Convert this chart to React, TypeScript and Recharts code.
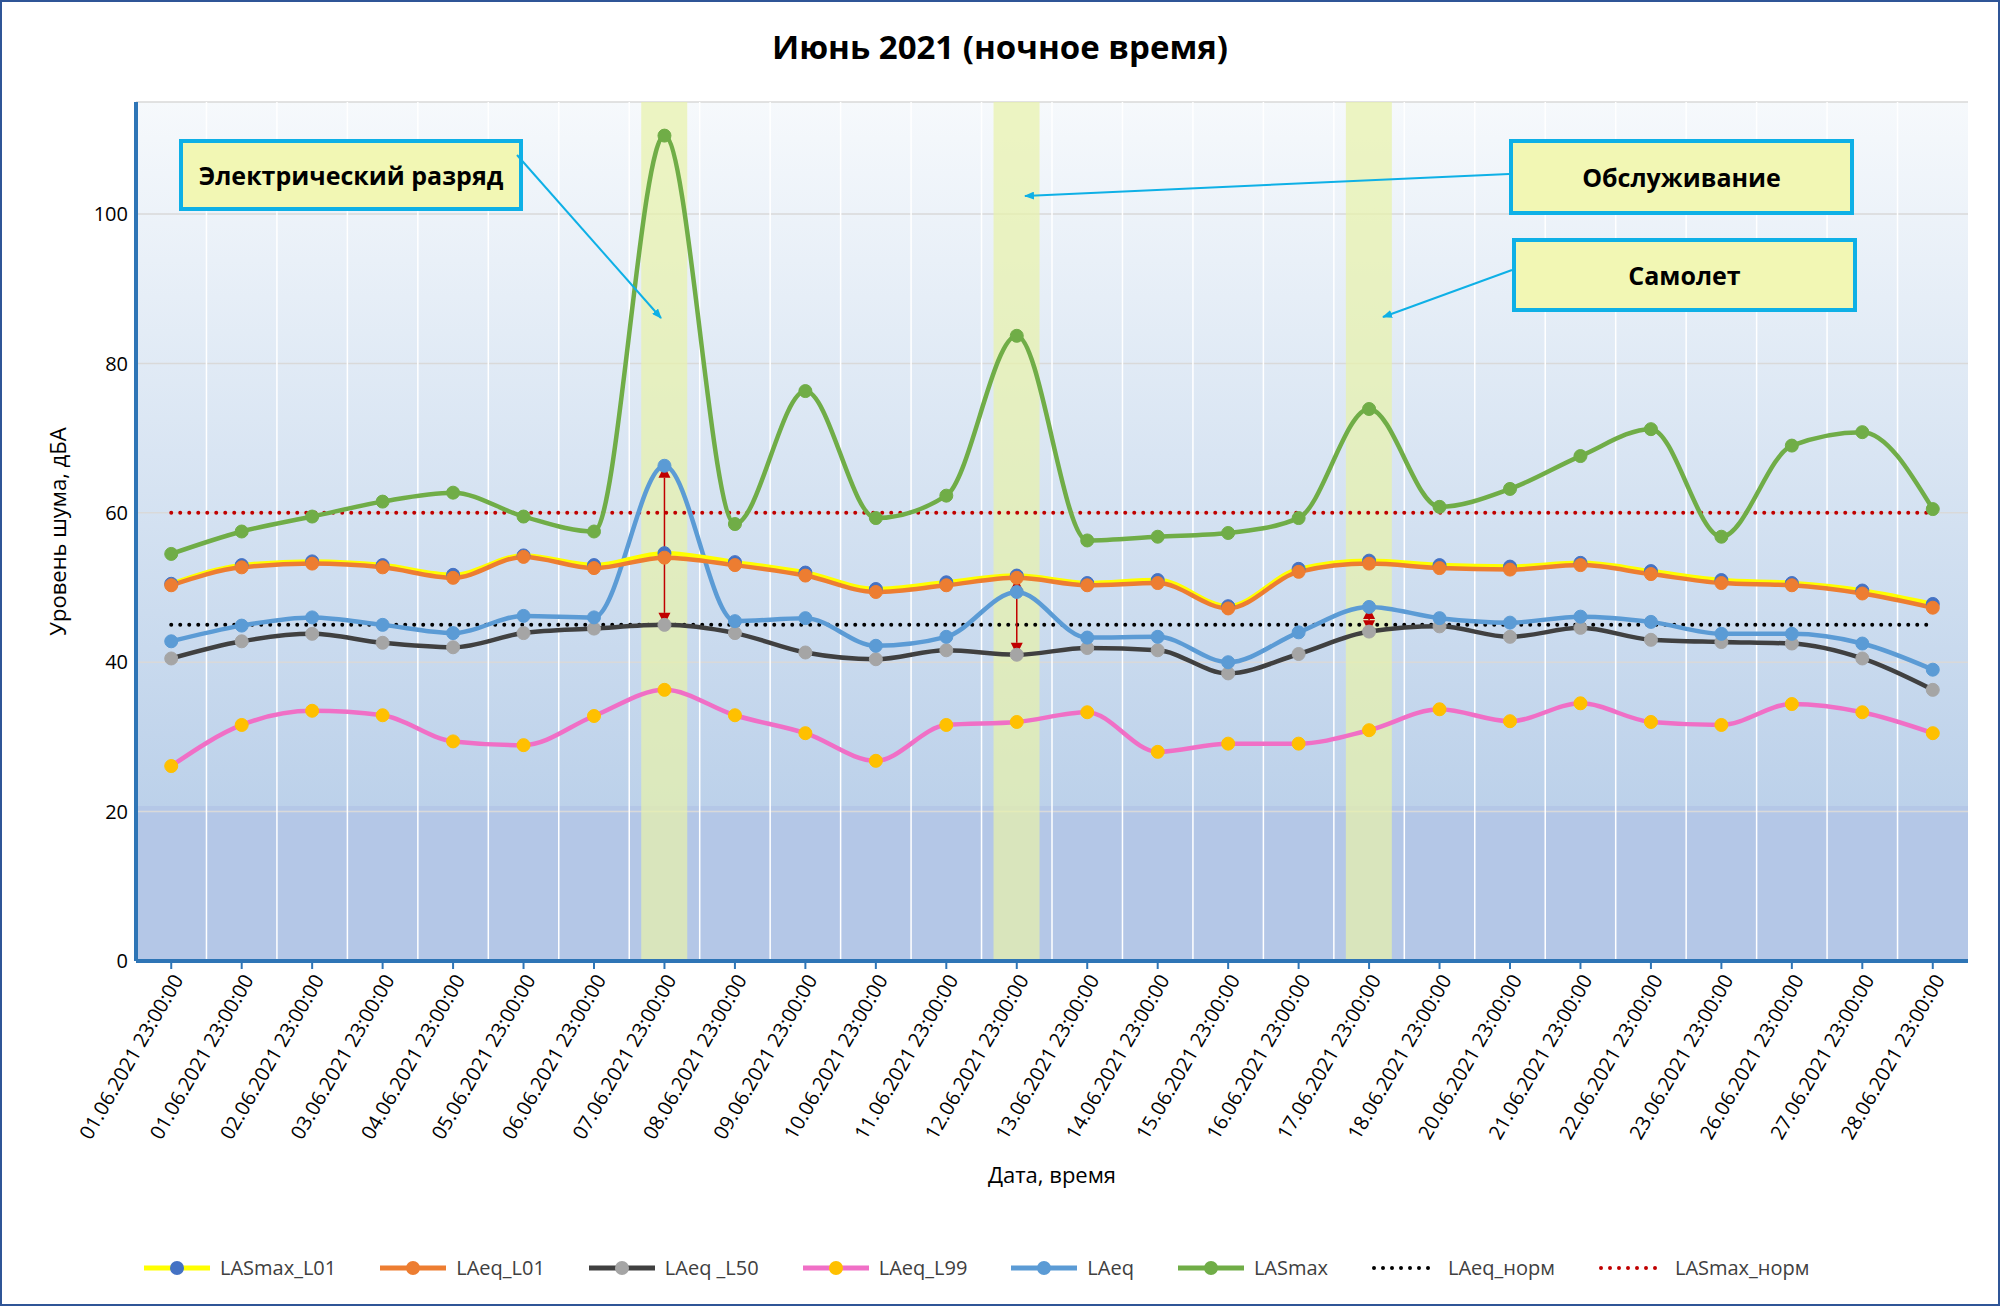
import React from 'react';
import { ComposedChart, Line, Bar, XAxis, YAxis, CartesianGrid, ReferenceLine } from 'recharts';

const labels = [
  '01.06.2021 23:00:00', '01.06.2021 23:00:00', '02.06.2021 23:00:00', '03.06.2021 23:00:00', '04.06.2021 23:00:00',
  '05.06.2021 23:00:00', '06.06.2021 23:00:00', '07.06.2021 23:00:00', '08.06.2021 23:00:00', '09.06.2021 23:00:00',
  '10.06.2021 23:00:00', '11.06.2021 23:00:00', '12.06.2021 23:00:00', '13.06.2021 23:00:00', '14.06.2021 23:00:00',
  '15.06.2021 23:00:00', '16.06.2021 23:00:00', '17.06.2021 23:00:00', '18.06.2021 23:00:00', '20.06.2021 23:00:00',
  '21.06.2021 23:00:00', '22.06.2021 23:00:00', '23.06.2021 23:00:00', '26.06.2021 23:00:00', '27.06.2021 23:00:00',
  '28.06.2021 23:00:00',
];
const lasmaxL01 = [50.5, 53, 53.5, 53, 51.7, 54.3, 53, 54.6, 53.4, 52, 49.8, 50.7, 51.6, 50.6, 51, 47.5, 52.5, 53.6, 53, 52.8, 53.3, 52.2, 51, 50.6, 49.6, 47.8];
const laeqL01 = [50.3, 52.7, 53.2, 52.7, 51.3, 54.1, 52.6, 54, 53, 51.6, 49.4, 50.3, 51.3, 50.3, 50.6, 47.2, 52.1, 53.2, 52.6, 52.4, 53, 51.8, 50.6, 50.3, 49.2, 47.3];
const laeqL50 = [40.5, 42.8, 43.8, 42.6, 42, 43.9, 44.5, 45, 43.9, 41.3, 40.4, 41.6, 41, 41.9, 41.6, 38.5, 41.1, 44.1, 44.8, 43.4, 44.6, 43, 42.7, 42.5, 40.5, 36.3];
const laeqL99 = [26.1, 31.6, 33.5, 32.9, 29.4, 28.9, 32.8, 36.3, 32.9, 30.5, 26.8, 31.6, 32, 33.3, 28, 29.1, 29.1, 30.9, 33.7, 32.1, 34.5, 32, 31.6, 34.4, 33.3, 30.5];
const laeq = [42.8, 44.9, 46, 45, 43.9, 46.2, 46, 66.3, 45.5, 45.9, 42.2, 43.4, 49.4, 43.3, 43.4, 40, 44, 47.4, 45.9, 45.3, 46.1, 45.4, 43.8, 43.8, 42.5, 39];
const lasmax = [54.5, 57.5, 59.5, 61.5, 62.7, 59.5, 57.5, 110.5, 58.5, 76.3, 59.3, 62.3, 83.7, 56.3, 56.8, 57.3, 59.3, 73.9, 60.8, 63.2, 67.6, 71.2, 56.8, 69, 70.8, 60.5];
const laeqNorm = 45;
const lasmaxNorm = 60;
const highlightIdx = [7, 12, 17];
const highlightTop = 115;
const gapArrows = [
  { idx: 7, from: 45, to: 66.3 },
  { idx: 12, from: 41, to: 51.3 },
  { idx: 17, from: 44, to: 47.4 },
];

const data = labels.map((l, i) => ({
  idx: i,
  lasmaxL01: lasmaxL01[i],
  laeqL01: laeqL01[i],
  laeqL50: laeqL50[i],
  laeqL99: laeqL99[i],
  laeq: laeq[i],
  lasmax: lasmax[i],
  laeqNorm,
  lasmaxNorm,
  hl: highlightIdx.includes(i) ? highlightTop : null,
}));

const FONT = '"Open Sans", "Liberation Sans", sans-serif';

const DoubleArrow = (props: any) => {
  const { x1, y1, x2, y2 } = props;
  const h = 12, w = 6;
  const top = Math.min(y1, y2), bot = Math.max(y1, y2);
  return (
    <g>
      <line x1={x1} y1={top + h} x2={x2} y2={bot - h} stroke="#c00000" strokeWidth={1.5} />
      <polygon points={`${x1},${top} ${x1 - w},${top + h} ${x1 + w},${top + h}`} fill="#c00000" />
      <polygon points={`${x1},${bot} ${x1 - w},${bot - h} ${x1 + w},${bot - h}`} fill="#c00000" />
    </g>
  );
};

const XTick = (props: any) => {
  const { x, y, payload } = props;
  return (
    <text x={x + 8} y={y + 6} transform={`rotate(-60 ${x + 8} ${y + 6})`} textAnchor="end" dominantBaseline="middle"
      fontSize={20} fill="#000" fontFamily={FONT}>
      {labels[payload.value]}
    </text>
  );
};

const legendItems = [
  { name: 'LASmax_L01', line: '#ffff00', dot: '#4472c4' },
  { name: 'LAeq_L01', line: '#ed7d31', dot: '#ed7d31' },
  { name: 'LAeq _L50', line: '#404040', dot: '#a5a5a5' },
  { name: 'LAeq_L99', line: '#f06fc6', dot: '#ffc000' },
  { name: 'LAeq', line: '#5b9bd5', dot: '#5b9bd5' },
  { name: 'LASmax', line: '#70ad47', dot: '#70ad47' },
  { name: 'LAeq_норм', line: '#000', dotted: true },
  { name: 'LASmax_норм', line: '#c00000', dotted: true },
];

const boxStyle: React.CSSProperties = {
  position: 'absolute', background: '#f2f7b4', border: '4px solid #0eb0e6', fontWeight: 700,
  fontSize: 25, display: 'flex', alignItems: 'center', justifyContent: 'center', fontFamily: FONT,
};

const series = [
  { key: 'laeqL99', line: '#f06fc6', dot: '#ffc000' },
  { key: 'laeqL50', line: '#404040', dot: '#a5a5a5' },
  { key: 'laeq', line: '#5b9bd5', dot: '#5b9bd5' },
  { key: 'lasmax', line: '#70ad47', dot: '#70ad47' },
  { key: 'lasmaxL01', line: '#ffff00', dot: '#4472c4' },
  { key: 'laeqL01', line: '#ed7d31', dot: '#ed7d31' },
];

export default function App() {
  const W = 2000, H = 1306;
  return (
    <div style={{ position: 'absolute', left: 0, top: 0, width: W, height: H, background: '#fff', boxSizing: 'border-box', border: '2px solid #2f5597', fontFamily: FONT, overflow: 'hidden' }}>
      <div style={{ position: 'absolute', top: 22, width: '100%', textAlign: 'center', fontSize: 33, fontWeight: 700 }}>Июнь 2021 (ночное время)</div>
      <ComposedChart width={W - 4} height={H - 4} data={data} margin={{ top: 100, left: 70, right: 30, bottom: 135 }} barGap={0}>
        <defs>
          <linearGradient id="bg" x1="0" y1="0" x2="0" y2="1">
            <stop offset="0" stopColor="#f6f9fc" />
            <stop offset="0.82" stopColor="#bcd1ea" />
            <stop offset="0.82" stopColor="#b4c7e7" />
            <stop offset="1" stopColor="#b4c7e7" />
          </linearGradient>
        </defs>
        <CartesianGrid fill="url(#bg)" stroke="#d9d9d9" strokeWidth={1.5} vertical={false} />
        <CartesianGrid stroke="#ffffff" strokeWidth={1.5} horizontal={false}
          verticalCoordinatesGenerator={({ offset }: any) => labels.map((_, i) => offset.left + (i * offset.width) / labels.length)} />
        <XAxis dataKey="idx" type="category" interval={0} height={208} tick={<XTick />}
          axisLine={{ stroke: '#2e75b6', strokeWidth: 4 }} tickLine={{ stroke: '#2e75b6', strokeWidth: 2 }} tickSize={8}
          label={{ value: 'Дата, время', position: 'insideBottom', offset: -14, fontSize: 22, fill: '#000' }} />
        <YAxis domain={[0, highlightTop]} ticks={[0, 20, 40, 60, 80, 100]} width={64}
          tick={{ fontSize: 20, fill: '#000' }} axisLine={{ stroke: '#2e75b6', strokeWidth: 4 }} tickLine={false}
          label={{ value: 'Уровень шума, дБА', angle: -90, position: 'insideLeft', offset: -14, fontSize: 22, fill: '#000', style: { textAnchor: 'middle' } }} />
        <Bar dataKey="hl" barSize={46} fill="rgba(232,242,170,0.7)" isAnimationActive={false} />
        <Line dataKey="laeqNorm" stroke="#000" strokeWidth={4} strokeDasharray="0 9" strokeLinecap="round" dot={false} isAnimationActive={false} />
        <Line dataKey="lasmaxNorm" stroke="#c00000" strokeWidth={4} strokeDasharray="0 9" strokeLinecap="round" dot={false} isAnimationActive={false} />
        {series.map((s) => (
          <Line key={s.key} type="monotone" dataKey={s.key} stroke={s.line} strokeWidth={4.5}
            dot={{ r: 6.5, fill: s.dot, stroke: s.dot, strokeWidth: 1 }} isAnimationActive={false} />
        ))}
        {gapArrows.map((a) => (
          <ReferenceLine key={a.idx} segment={[{ x: a.idx, y: a.from }, { x: a.idx, y: a.to }]} shape={<DoubleArrow />} />
        ))}
      </ComposedChart>

      <div style={{ ...boxStyle, left: 177, top: 137, width: 336, height: 64 }}>Электрический разряд</div>
      <div style={{ ...boxStyle, left: 1507, top: 137, width: 337, height: 68 }}>Обслуживание</div>
      <div style={{ ...boxStyle, left: 1510, top: 236, width: 337, height: 66 }}>Самолет</div>
      <svg width={W} height={H} style={{ position: 'absolute', left: 0, top: 0, pointerEvents: 'none' }}>
        <defs>
          <marker id="ah" markerWidth="10" markerHeight="8" refX="9" refY="4" orient="auto" markerUnits="userSpaceOnUse">
            <polygon points="0,0 10,4 0,8" fill="#0eb0e6" />
          </marker>
        </defs>
        <line x1={515} y1={153} x2={659} y2={316} stroke="#0eb0e6" strokeWidth={2} markerEnd="url(#ah)" />
        <line x1={1507} y1={172} x2={1023} y2={194} stroke="#0eb0e6" strokeWidth={2} markerEnd="url(#ah)" />
        <line x1={1510} y1={268} x2={1381} y2={315} stroke="#0eb0e6" strokeWidth={2} markerEnd="url(#ah)" />
      </svg>

      <div style={{ position: 'absolute', top: 1252, left: 140, display: 'flex', gap: 42, fontSize: 20, color: '#404040' }}>
        {legendItems.map((it) => (
          <div key={it.name} style={{ display: 'flex', alignItems: 'center', gap: 8 }}>
            <svg width={70} height={16}>
              {it.dotted
                ? <line x1={4} y1={8} x2={66} y2={8} stroke={it.line} strokeWidth={4} strokeDasharray="0 9" strokeLinecap="round" />
                : <>
                    <line x1={2} y1={8} x2={68} y2={8} stroke={it.line} strokeWidth={5} />
                    <circle cx={35} cy={8} r={7} fill={it.dot} />
                  </>}
            </svg>
            <span>{it.name}</span>
          </div>
        ))}
      </div>
    </div>
  );
}
